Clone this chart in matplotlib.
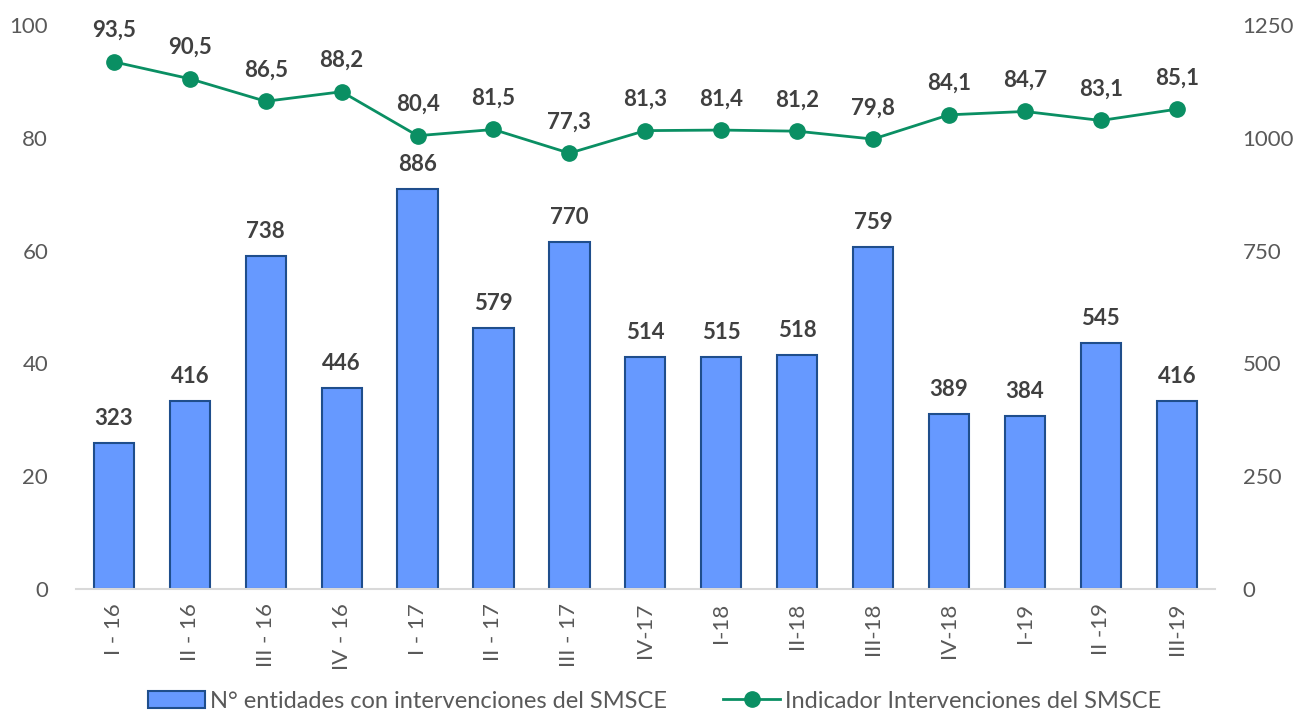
import matplotlib.pyplot as plt
from matplotlib.lines import Line2D
from matplotlib.patches import Patch

trimestres = ["I - 16", "II - 16", "III - 16", "IV - 16", "I - 17", "II - 17", "III - 17",
              "IV-17", "I-18", "II-18", "III-18", "IV-18", "I-19", "II -19", "III-19"]
entidades = [323, 416, 738, 446, 886, 579, 770, 514, 515, 518, 759, 389, 384, 545, 416]
indicador = [93.5, 90.5, 86.5, 88.2, 80.4, 81.5, 77.3, 81.3, 81.4, 81.2, 79.8, 84.1, 84.7, 83.1, 85.1]

plt.rcParams['font.family'] = ['Lato', 'DejaVu Sans']

color_barra = '#6699FF'
borde_barra = '#1F4E8C'
color_linea = '#0A8F63'
gris = '#595959'
oscuro = '#404040'

fig = plt.figure(figsize=(13.09, 7.2), dpi=100)
ax = fig.add_axes([0.058, 0.182, 0.87, 0.783])
ax2 = ax.twinx()

x = list(range(len(trimestres)))

# barras en eje derecho
ax2.bar(x, entidades, width=0.53, color=color_barra, edgecolor=borde_barra, linewidth=1.5)
for xi, v in zip(x, entidades):
    ax2.annotate(str(v), (xi, v), xytext=(0, 10), textcoords='offset points',
                 ha='center', va='bottom', fontsize=16, fontweight='bold', color=oscuro)
ax2.set_ylim(0, 1250)
ax2.set_yticks(range(0, 1251, 250))

# linea en eje izquierdo, por encima de las barras
ax.plot(x, indicador, color=color_linea, linewidth=2, marker='o', markersize=11)
for xi, v in zip(x, indicador):
    ax.annotate(f"{v:.1f}".replace('.', ','), (xi, v), xytext=(0, 15), textcoords='offset points',
                ha='center', va='bottom', fontsize=16, fontweight='bold', color=oscuro)
ax.set_ylim(0, 100)
ax.set_yticks(range(0, 101, 20))
ax.set_xlim(-0.5, len(trimestres) - 0.5)
ax.set_xticks(x)
ax.set_xticklabels(trimestres, rotation=90)
ax.set_zorder(ax2.get_zorder() + 1)
ax.patch.set_visible(False)

for a in (ax, ax2):
    for s in a.spines.values():
        s.set_visible(False)
    a.tick_params(length=0, labelsize=16, labelcolor=gris)
ax.spines['bottom'].set_visible(True)
ax.spines['bottom'].set_color('#D9D9D9')
ax.spines['bottom'].set_linewidth(1.5)
ax.tick_params(axis='y', pad=20)
ax2.tick_params(axis='y', pad=20)
ax.tick_params(axis='x', pad=10)

handles = [Patch(facecolor=color_barra, edgecolor=borde_barra, linewidth=1.5),
           Line2D([0], [0], color=color_linea, linewidth=2, marker='o', markersize=11)]
labels = ["N° entidades con intervenciones del SMSCE", "Indicador Intervenciones del SMSCE"]
fig.legend(handles, labels, loc='lower center', bbox_to_anchor=(0.5, -0.018), ncol=2,
           frameon=False, fontsize=17, labelcolor=gris, handlelength=2.4,
           columnspacing=2.4, handletextpad=0.2)

fig.savefig('out.png', dpi=100)
